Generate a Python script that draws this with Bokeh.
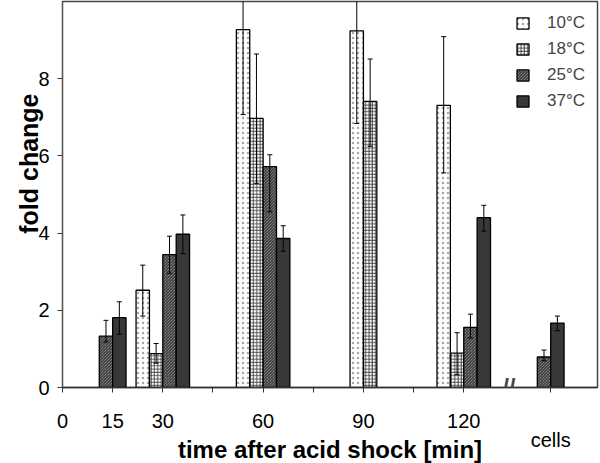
import math
from bokeh.plotting import figure
from bokeh.models import (ColumnDataSource, Range1d, FixedTicker, Legend,
                          LegendItem, Label, Title)
from bokeh.embed import file_html
from bokeh.resources import INLINE

nan = float("nan")

# ---------------- data ----------------
times = [15, 30, 60, 90, 120, 146]          # last group = "cells"
tick_values = [0, 15, 30, 45, 60, 75, 90, 105, 120, 146]
tick_labels = ["0", "15", "30", "", "60", "", "90", "", "120", "\ncells"]
series = ["10°C", "18°C", "25°C", "37°C"]

fold_10 = [nan, 2.52, 9.27, 9.24, 7.31, nan]
fold_18 = [nan, 0.88, 6.97, 7.41, 0.89, nan]
fold_25 = [1.33, 3.44, 5.72, nan, 1.56, 0.79]
fold_37 = [1.81, 3.97, 3.86, nan, 4.40, 1.67]

err_hi_10 = [nan, 0.65, 2.20, 2.40, 1.78, nan]
err_lo_10 = [nan, 0.67, 2.20, 2.40, 1.75, nan]
err_hi_18 = [nan, 0.26, 1.67, 1.10, 0.53, nan]
err_lo_18 = [nan, 0.25, 1.68, 1.16, 0.56, nan]
err_hi_25 = [0.41, 0.48, 0.31, nan, 0.34, 0.18]
err_lo_25 = [0.15, 0.48, 1.17, nan, 0.28, 0.10]
err_hi_37 = [0.41, 0.50, 0.33, nan, 0.32, 0.18]
err_lo_37 = [0.43, 0.50, 0.33, nan, 0.35, 0.20]

values = [fold_10, fold_18, fold_25, fold_37]
err_hi = [err_hi_10, err_hi_18, err_hi_25, err_hi_37]
err_lo = [err_lo_10, err_lo_18, err_lo_25, err_lo_37]

BAR_W = 4.0
CAP = 0.75
BREAK_AT = 133.5

styles = [
    dict(fill_color="white", hatch_pattern="dot", hatch_color="#a8a8a8",
         hatch_scale=5, hatch_weight=1.2),
    dict(fill_color="white", hatch_pattern="cross", hatch_color="#333333",
         hatch_scale=3.3, hatch_weight=0.9),
    dict(fill_color="#a8a8a8", hatch_pattern="left_diagonal_line",
         hatch_color="#222222", hatch_scale=3, hatch_weight=1),
    dict(fill_color="#383838"),
]

# bar positions: present bars of each group are centred on the group tick
xs = [[nan] * len(times) for _ in series]
for g, t in enumerate(times):
    present = [s for s in range(len(series)) if not math.isnan(values[s][g])]
    n = len(present)
    for k, s in enumerate(present):
        xs[s][g] = t + (k - (n - 1) / 2) * BAR_W

FONT = "Liberation Sans"

p = figure(frame_width=535, frame_height=386, output_backend="svg",
           toolbar_location=None, title=None,
           x_range=Range1d(0, 160), y_range=Range1d(0, 10),
           min_border_left=62, min_border_right=3, min_border_top=1,
           min_border_bottom=76)
p.grid.visible = False
p.background_fill_color = "white"
p.border_fill_color = "white"
p.outline_line_color = "#444444"
p.outline_line_width = 1.5

renderers = []
for s in range(len(series)):
    rows = [g for g in range(len(times)) if not math.isnan(values[s][g])]
    x = [xs[s][g] for g in rows]
    top = [values[s][g] for g in rows]
    up = [values[s][g] + err_hi[s][g] for g in rows]
    lo = [values[s][g] - err_lo[s][g] for g in rows]
    src = ColumnDataSource(dict(x=x, top=top, up=up, lo=lo,
                                xl=[v - CAP for v in x], xr=[v + CAP for v in x]))
    r = p.vbar(x="x", top="top", bottom=0, width=BAR_W, source=src,
               line_color="black", line_width=1.3, **styles[s])
    renderers.append((r, src))

for r, src in renderers:
    p.segment(x0="x", y0="lo", x1="x", y1="up", source=src,
              line_color="black", line_width=1)
    p.segment(x0="xl", y0="up", x1="xr", y1="up", source=src,
              line_color="black", line_width=1)
    p.segment(x0="xl", y0="lo", x1="xr", y1="lo", source=src,
              line_color="black", line_width=1)

# axes
p.xaxis.ticker = FixedTicker(ticks=tick_values)
p.xaxis.major_label_overrides = {v: l for v, l in zip(tick_values, tick_labels)}
p.yaxis.ticker = FixedTicker(ticks=[0, 2, 4, 6, 8])
for ax in (p.xaxis, p.yaxis):
    ax.major_tick_out = 5
    ax.major_tick_in = 0
    ax.minor_tick_out = 0
    ax.minor_tick_in = 0
    ax.major_label_text_font = FONT
    ax.major_label_text_font_size = "20px"
    ax.major_label_text_color = "black"
    ax.major_tick_line_color = "#333333"
p.xaxis.axis_line_color = "#333333"
p.xaxis.axis_line_width = 1.5
p.yaxis.axis_line_color = "#555555"
p.yaxis.axis_line_width = 1
p.xaxis.major_label_standoff = 17
p.xaxis.major_label_text_line_height = 0.9
p.yaxis.major_label_standoff = 8

p.xaxis.axis_label = "time after acid shock [min]"
p.xaxis.axis_label_text_font = FONT
p.xaxis.axis_label_text_font_size = "24px"
p.xaxis.axis_label_text_font_style = "bold"
p.xaxis.axis_label_text_color = "black"
p.xaxis.axis_label_standoff = -18

p.add_layout(Title(text="fold change", align="right", offset=92, standoff=-14,
                   text_font=FONT, text_font_size="25px",
                   text_font_style="bold", text_color="black"), "left")

# legend
legend = Legend(items=[LegendItem(label=series[i], renderers=[renderers[i][0]])
                       for i in range(len(series))],
                location="top_right", margin=12, padding=0, spacing=6,
                glyph_width=15, glyph_height=14, label_standoff=17,
                label_height=20, label_text_font=FONT,
                label_text_font_size="17px", border_line_color=None,
                background_fill_alpha=0)
p.add_layout(legend)

# axis break mark
p.add_layout(Label(x=BREAK_AT, y=0, text="//", text_align="center",
                   text_baseline="alphabetic", text_font=FONT,
                   text_font_size="23px", text_font_style="bold"))

open("out.html", "w").write(file_html(p, INLINE))
